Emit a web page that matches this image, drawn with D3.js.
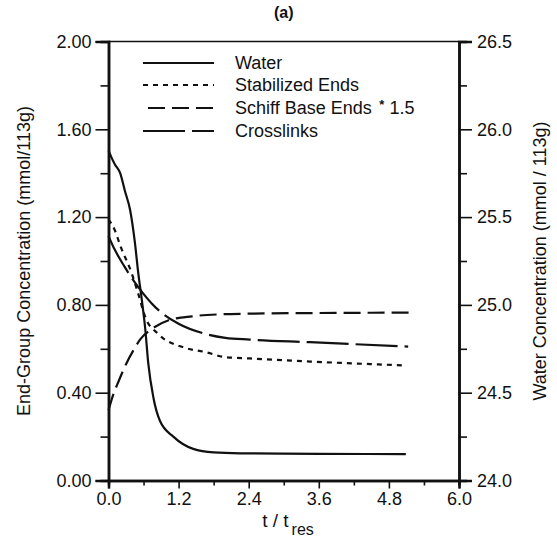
<!DOCTYPE html>
<html lang="en">
    <head>
        <meta charset="utf-8">
        <title>End-group and water concentration</title>
        <script type="text/javascript" src="https://d3js.org/d3.v7.min.js"></script>
        <style>
            body { margin: 0; background: #fff; }
            text { font-family: "Liberation Sans", Arial, sans-serif; fill: #111; }
        </style>
    </head>
    <body>
        <script>
        // x values are t / t_res
        const waterT = [0, 0.05, 0.11, 0.2, 0.28, 0.37, 0.45, 0.51, 0.57, 0.63, 0.68, 0.77, 0.88, 1.11, 1.45, 1.8, 2.26, 3.6, 5.09];
        const waterVal = [25.88, 25.84, 25.8, 25.75, 25.65, 25.54, 25.36, 25.18, 25.03, 24.86, 24.67, 24.47, 24.34, 24.25, 24.18, 24.16, 24.155, 24.152, 24.15];

        const stabT = [0, 0.11, 0.2, 0.4, 0.51, 0.63, 0.85, 1.3, 1.66, 2.0, 2.42, 3.45, 5.1];
        const stabVal = [1.19, 1.139, 1.071, 0.942, 0.85, 0.744, 0.668, 0.605, 0.585, 0.562, 0.556, 0.542, 0.524];

        const schiffT = [0, 0.08, 0.17, 0.3, 0.43, 0.55, 0.74, 1.03, 1.43, 1.91, 2.4, 3.6, 5.25];
        const schiffVal = [0.32, 0.39, 0.45, 0.53, 0.595, 0.645, 0.69, 0.73, 0.748, 0.757, 0.76, 0.763, 0.765];

        const crossT = [0, 0.03, 0.28, 0.51, 0.8, 1.2, 1.66, 2.0, 2.42, 3.45, 5.13];
        const crossVal = [1.115, 1.095, 0.972, 0.881, 0.79, 0.714, 0.668, 0.65, 0.642, 0.63, 0.61];

        const xTicks = [0, 1.2, 2.4, 3.6, 4.8, 6.0];
        const xMinor = [0.6, 1.8, 3.0, 4.2, 5.4];
        const leftTicks = [0, 0.4, 0.8, 1.2, 1.6, 2.0];
        const leftMinor = [0.2, 0.6, 1.0, 1.4, 1.8];
        const rightTicks = [24.0, 24.5, 25.0, 25.5, 26.0, 26.5];
        const rightMinor = [24.25, 24.75, 25.25, 25.75, 26.25];

        const legendKeys = ["Water", "Stabilized Ends", "Schiff Base Ends", "Crosslinks"];

        const margin = {top: 41.5, right: 98, bottom: 63.5, left: 108.5},
            width = 557 - margin.left - margin.right,
            height = 544 - margin.top - margin.bottom;

        const svg = d3.select("body")
            .append("svg")
                .attr("width", 557)
                .attr("height", 544)
            .append("g")
                .attr("transform", `translate(${margin.left}, ${margin.top})`);

        const x = d3.scaleLinear().domain([0, 6]).range([0, width]);
        const y = d3.scaleLinear().domain([0, 2]).range([height, 0]);
        const yW = d3.scaleLinear().domain([24, 26.5]).range([height, 0]);

        function styleAxis(g, w) {
            g.select(".domain").attr("stroke", "#111").attr("stroke-width", w);
            g.selectAll(".tick line").attr("stroke", "#111").attr("stroke-width", 1.6);
            g.selectAll("text").attr("font-size", "18px").attr("fill", "#111")
                .attr("font-family", "Liberation Sans, Arial, sans-serif");
        }

        // minor ticks first, majors on top
        svg.append("g").attr("transform", `translate(0, ${height})`)
            .call(d3.axisBottom(x).tickValues(xMinor).tickSize(5).tickFormat(""))
            .call(g => styleAxis(g, 2.5));
        svg.append("g").attr("transform", `translate(0, ${height})`)
            .call(d3.axisBottom(x).tickValues(xTicks).tickSize(8).tickPadding(4).tickFormat(d3.format(".1f")))
            .call(g => styleAxis(g, 2.5));

        svg.append("g")
            .call(d3.axisLeft(y).tickValues(leftMinor).tickSize(8).tickFormat(""))
            .call(g => styleAxis(g, 2.5));
        svg.append("g")
            .call(d3.axisLeft(y).tickValues(leftTicks).tickSize(13).tickPadding(4).tickFormat(d3.format(".2f")))
            .call(g => styleAxis(g, 2.5));

        svg.append("g").attr("transform", `translate(${width}, 0)`)
            .call(d3.axisRight(yW).tickValues(rightMinor).tickSize(8).tickFormat(""))
            .call(g => styleAxis(g, 2.5));
        svg.append("g").attr("transform", `translate(${width}, 0)`)
            .call(d3.axisRight(yW).tickValues(rightTicks).tickSize(13).tickPadding(5).tickFormat(d3.format(".1f")))
            .call(g => styleAxis(g, 2.5));

        // top border
        svg.append("line")
            .attr("x1", 0).attr("x2", width)
            .attr("y1", 0).attr("y2", 0)
            .attr("stroke", "#111").attr("stroke-width", 1.6);

        // curves
        const series = [
            {t: waterT, v: waterVal, scale: yW, dash: null, w: 2.2},
            {t: stabT, v: stabVal, scale: y, dash: "5,5", w: 2.2},
            {t: schiffT, v: schiffVal, scale: y, dash: "17,7", w: 2.2},
            {t: crossT, v: crossVal, scale: y, dash: "42,7", w: 2.2}
        ];

        series.forEach(s => {
            const line = d3.line()
                .x((d, i) => x(s.t[i]))
                .y(d => s.scale(d))
                .curve(d3.curveMonotoneX);
            svg.append("path")
                .datum(s.v)
                .attr("d", line)
                .attr("fill", "none")
                .attr("stroke", "#111")
                .attr("stroke-width", s.w)
                .attr("stroke-dasharray", s.dash);
        });

        // legend
        const legendY = [63, 85, 108, 131];
        const legendX0 = [143, 143, 148, 143];
        const legend = svg.selectAll("myItems")
            .data(legendKeys)
            .join("g")
            .attr("transform", (d, i) => `translate(0, ${legendY[i] - margin.top})`);

        legend.append("line")
            .attr("x1", (d, i) => legendX0[i] - margin.left)
            .attr("x2", 214 - margin.left)
            .attr("y1", 0).attr("y2", 0)
            .attr("stroke", "#111")
            .attr("stroke-width", 2.2)
            .attr("stroke-dasharray", (d, i) => series[i].dash);

        const lt = legend.append("text")
            .attr("x", 235 - margin.left)
            .attr("y", 6)
            .attr("font-size", "18px")
            .text(d => d);
        lt.filter((d, i) => i === 2)
            .append("tspan").attr("dy", -5).attr("dx", 4).attr("font-size", "13px").attr("font-weight", 700).text(" *")
            .append("tspan").attr("dy", 5).attr("font-size", "18px").attr("font-weight", 400).text(" 1.5");

        // title
        svg.append("text")
            .attr("x", width / 2)
            .attr("y", 18 - margin.top)
            .attr("text-anchor", "middle")
            .attr("font-weight", 700)
            .attr("font-size", "16px")
            .text("(a)");

        // axis titles
        svg.append("text")
            .attr("transform", `translate(${24 - margin.left}, ${height / 2}) rotate(-90)`)
            .attr("text-anchor", "middle")
            .attr("dy", "0.35em")
            .attr("font-size", "18px")
            .text("End-Group Concentration (mmol/113g)");

        svg.append("text")
            .attr("transform", `translate(${540 - margin.left}, ${height / 2}) rotate(-90)`)
            .attr("text-anchor", "middle")
            .attr("dy", "0.35em")
            .attr("font-size", "18px")
            .text("Water Concentration (mmol / 113g)");

        const xl = svg.append("text")
            .attr("x", 288 - margin.left)
            .attr("y", height + 46)
            .attr("text-anchor", "middle")
            .attr("font-size", "19px")
            .text("t / t");
        xl.append("tspan").attr("dy", 8).attr("dx", 3).attr("font-size", "16px").text("res");
        </script>
    </body>
</html>
